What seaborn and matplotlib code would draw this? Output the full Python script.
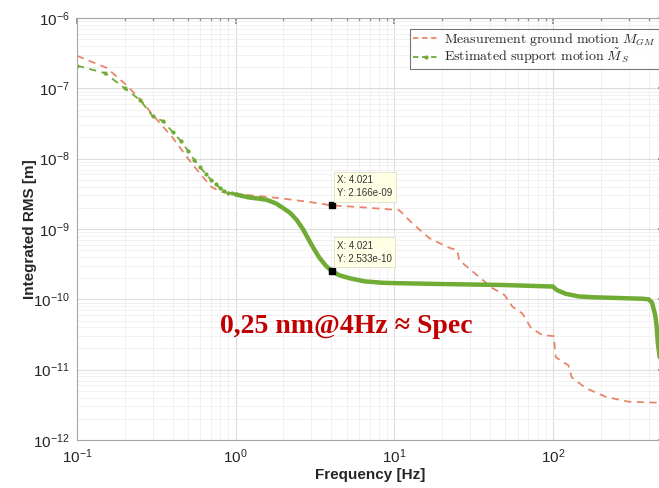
import numpy as np
import pandas as pd
import matplotlib
matplotlib.use("Agg")
import matplotlib.pyplot as plt
import seaborn as sns
from matplotlib.lines import Line2D
from matplotlib.font_manager import FontProperties
from matplotlib import ticker

# Measured ground motion (integrated RMS, m)
gm_freq = [0.1, 0.154, 0.206, 0.25, 0.3, 0.4, 0.51, 0.6, 0.7, 0.8, 1.0, 1.5, 2.0, 3.0,
           4.021, 6.0, 8.0, 10.7, 13.0, 16.6, 22.2, 24.9, 25.6, 34.0, 41.4, 49.5, 55.6,
           64.0, 72.7, 85.6, 101, 104, 125, 131, 160, 215, 300, 445, 500]
gm_rms = [2.9e-7, 1.95e-7, 1.1e-7, 7e-8, 4.2e-8, 2.0e-8, 9.5e-9, 6e-9, 4.0e-9, 3.4e-9,
          3.15e-9, 2.9e-9, 2.7e-9, 2.4e-9, 2.166e-9, 2.05e-9, 1.95e-9, 1.86e-9, 1.2e-9,
          7.4e-10, 5.4e-10, 5.0e-10, 3.6e-10, 2.1e-10, 1.45e-10, 1.15e-10, 7.8e-11,
          6.3e-11, 3.9e-11, 3.1e-11, 3.0e-11, 1.5e-11, 1.15e-11, 7.8e-12, 5.5e-12,
          4.1e-12, 3.5e-12, 3.4e-12, 3.35e-12]

# Estimated support motion, low band (sparse samples, 0.05 Hz step)
sm_freq_low = [0.10, 0.15, 0.20, 0.25, 0.30, 0.35, 0.40, 0.45, 0.50, 0.55, 0.60, 0.65,
               0.70, 0.75, 0.80, 0.85, 0.90, 0.95, 1.00]
sm_rms_low = [2.1e-7, 1.65e-7, 1.0e-7, 6.8e-8, 4.0e-8, 3.4e-8, 2.4e-8, 1.8e-8, 1.3e-8,
              9.5e-9, 7.5e-9, 6.0e-9, 5.0e-9, 4.3e-9, 3.8e-9, 3.5e-9, 3.3e-9, 3.2e-9, 3.1e-9]

# Estimated support motion, high band (dense samples -> solid look)
sm_freq_high = [1.0, 1.1, 1.22, 1.4, 1.57, 1.8, 1.98, 2.2, 2.42, 2.65, 2.9, 3.1, 3.37,
                3.7, 4.021, 4.5, 5.2, 6.5, 8.4, 10, 20, 47.6, 100, 103, 106, 120, 145,
                180, 236, 365, 400, 420, 440, 450, 457, 470]
sm_rms_high = [3.1e-9, 2.95e-9, 2.8e-9, 2.7e-9, 2.6e-9, 2.3e-9, 2.0e-9, 1.7e-9, 1.35e-9,
               1.0e-9, 6.9e-10, 5.3e-10, 3.9e-10, 3.0e-10, 2.533e-10, 2.2e-10, 2.0e-10,
               1.8e-10, 1.72e-10, 1.7e-10, 1.65e-10, 1.6e-10, 1.52e-10, 1.42e-10,
               1.35e-10, 1.2e-10, 1.1e-10, 1.07e-10, 1.05e-10, 1.02e-10, 1.0e-10, 9e-11,
               6e-11, 4e-11, 2.4e-11, 1.5e-11]

# data tips
tip_freq = [4.021, 4.021]
tip_rms = [2.166e-9, 2.533e-10]

x_decades = [-1, 0, 1, 2]
y_decades = [-12, -11, -10, -9, -8, -7, -6]

red = "#e8866c"
green = "#6fab35"

sns.set_theme(style="white")
plt.rcParams["font.family"] = ["Liberation Sans", "DejaVu Sans"]
plt.rcParams["mathtext.fontset"] = "custom"
plt.rcParams["mathtext.rm"] = "Liberation Sans"
plt.rcParams["mathtext.it"] = "Liberation Sans:italic"

fig = plt.figure(figsize=(6.59, 4.88), dpi=100)
ax = fig.add_axes([77 / 659, 48 / 488, 587 / 659, 422 / 488])

ax.set_xscale("log")
ax.set_yscale("log")

sns.lineplot(x=gm_freq, y=gm_rms, ax=ax, color=red, linewidth=1.3,
             linestyle=(0, (4, 3)), sort=False)
sns.lineplot(x=sm_freq_low, y=sm_rms_low, ax=ax, color=green, linewidth=1.3,
             linestyle=(0, (4, 3)), marker="o", markersize=3, markeredgewidth=0,
             sort=False)
sns.lineplot(x=sm_freq_high, y=sm_rms_high, ax=ax, color=green, linewidth=3.2,
             sort=False, solid_capstyle="round", solid_joinstyle="round")

# fixed ticks, only inside the view
xmaj = [10.0 ** d for d in x_decades]
ymaj = [10.0 ** d for d in y_decades]
xmin = [m * 10.0 ** d for d in x_decades for m in range(2, 10) if m * 10.0 ** d <= 500]
ymin = [m * 10.0 ** d for d in y_decades[:-1] for m in range(2, 10)]
ax.set_xticks(xmaj)
ax.set_xticks(xmin, minor=True)
ax.set_yticks(ymaj)
ax.set_yticks(ymin, minor=True)
ax.xaxis.set_major_formatter(ticker.FuncFormatter(lambda v, p: rf"$10^{{{int(round(np.log10(v)))}}}$"))
ax.yaxis.set_major_formatter(ticker.FuncFormatter(lambda v, p: rf"$10^{{{int(round(np.log10(v)))}}}$"))
ax.xaxis.set_minor_formatter(ticker.NullFormatter())
ax.yaxis.set_minor_formatter(ticker.NullFormatter())

ax.set_xlim(0.1, 500)
ax.set_ylim(1e-12, 1e-6)

ax.grid(True, which="major", color="#dddddd", linewidth=0.8)
ax.grid(True, which="minor", color="#efefef", linewidth=0.6)
ax.set_axisbelow(True)
for s in ax.spines.values():
    s.set_color("#a6a6a6")
    s.set_linewidth(0.8)

ax.tick_params(which="both", direction="in", top=True, right=True, color="#8c8c8c")
ax.tick_params(which="major", length=4, labelsize=11, labelcolor="#262626", pad=5)
ax.tick_params(which="minor", length=2)

ax.set_xlabel("Frequency [Hz]", fontsize=11, fontweight="bold", color="#262626", labelpad=2)
ax.set_ylabel("Integrated RMS [m]", fontsize=11, fontweight="bold", color="#262626", labelpad=-3)

# data tips
ax.scatter(tip_freq, tip_rms, marker="s", s=14, color="black", zorder=5)
for f, v in zip(tip_freq, tip_rms):
    ax.annotate(f"X: {f:.3f}\nY: {v:.3e}", xy=(f, v),
                xytext=(4, 5), textcoords="offset points", fontsize=7,
                color="#333333", ha="left", va="bottom", linespacing=1.4,
                bbox=dict(boxstyle="square,pad=0.35", fc="#ffffe6", ec="#e0e0c8", lw=0.6),
                zorder=6)

ax.text(0.458, 0.27, "0,25 nm@4Hz \u2248 Spec", transform=ax.transAxes,
        fontsize=20, fontweight="bold", color="#c00000",
        family=["Liberation Serif", "DejaVu Serif"], ha="center", va="center")

handles = [Line2D([], [], color=red, linestyle=(0, (3, 2)), linewidth=1.3),
           Line2D([], [], color=green, linestyle=(0, (3, 2)), linewidth=1.3,
                  marker="o", markersize=3, markeredgewidth=0)]
labels = [r"$\mathrm{Measurement\ ground\ motion}\ M_{GM}$",
          r"$\mathrm{Estimated\ support\ motion}\ \tilde{M}_S$"]
leg = ax.legend(handles, labels, loc="upper right", bbox_to_anchor=(0.9915, 0.975),
                prop=FontProperties(size=10, math_fontfamily="cm"),
                frameon=True, fancybox=False, edgecolor="#555555",
                handlelength=2.0, handletextpad=0.3, borderpad=0.2,
                labelspacing=-0.1, borderaxespad=0)
leg.get_frame().set_linewidth(0.8)

fig.savefig("out.png", dpi=100)
